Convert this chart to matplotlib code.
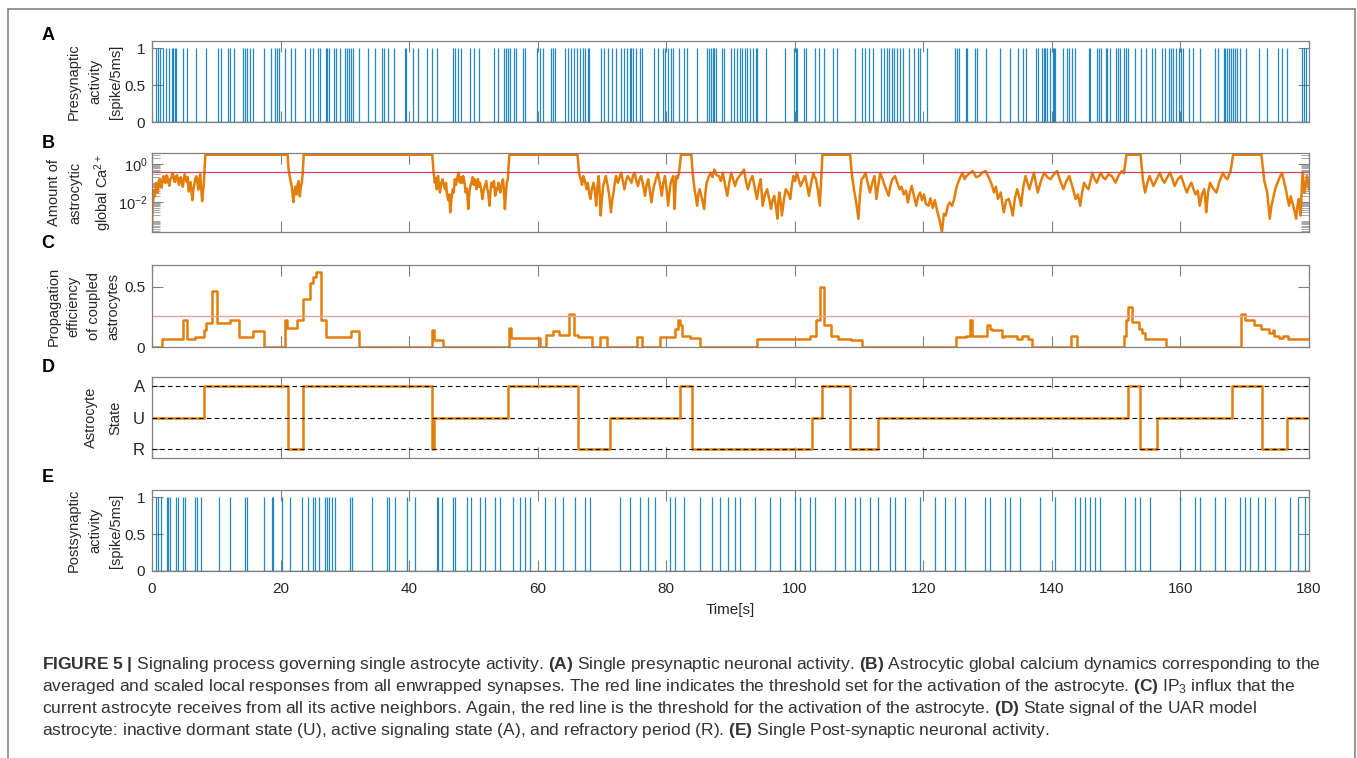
import numpy as np
import matplotlib.pyplot as plt
from matplotlib.patches import Rectangle
from matplotlib.ticker import FixedLocator, LogLocator, NullFormatter, LogFormatterSciNotation

plt.rcParams['font.family'] = ['Liberation Sans', 'DejaVu Sans']
plt.rcParams['mathtext.fontset'] = 'custom'
plt.rcParams['mathtext.rm'] = 'Liberation Sans'
plt.rcParams['mathtext.it'] = 'Liberation Sans:italic'
plt.rcParams['mathtext.bf'] = 'Liberation Sans:bold'

# ---- data (time in s) ----
pre_spikes = [0.7, 0.95, 1.3, 1.7, 2.2, 2.6, 3.1, 3.3, 3.6, 3.8, 4.9, 5.4, 6.9, 8.4, 10.3, 10.7, 11.8, 12.1,
              12.8, 14.1, 14.5, 14.8, 15.2, 15.7, 17.4, 18.5, 19.2, 19.5, 19.7, 20.7, 21.6, 22.2, 23.8, 24.6,
              25.0, 25.8, 26.1, 27.1, 27.2, 27.5, 28.3, 28.7, 29.3, 30.0, 30.4, 30.6, 31.0, 31.3, 32.2, 33.6,
              34.7, 35.8, 36.1, 36.7, 37.6, 39.3, 39.5, 40.6, 41.4, 42.8, 43.6, 44.3, 46.8, 47.1, 47.6, 48.0,
              49.4, 50.1, 50.8, 53.2, 53.9, 54.8, 55.1, 55.4, 55.7, 56.3, 56.7, 57.7, 58.1, 59.9, 60.3, 60.8,
              62.0, 62.4, 62.7, 64.2, 64.7, 65.2, 65.6, 66.1, 66.6, 67.0, 67.3, 67.8, 68.0, 69.8, 70.3, 71.0,
              71.6, 72.2, 72.9, 73.5, 73.9, 74.3, 74.5, 74.9, 75.3, 75.9, 76.2, 78.1, 78.7, 79.5, 79.8, 80.2,
              80.8, 81.1, 82.0, 82.7, 83.2, 84.8, 86.3, 86.6, 86.9, 87.2, 87.5, 87.8, 88.7, 89.0, 90.1, 90.6,
              91.0, 91.5, 91.8, 92.2, 92.6, 93.0, 93.5, 93.9, 94.2, 95.5, 98.5, 99.9, 100.2, 100.4, 101.4,
              101.8, 103.2, 103.8, 104.5, 106.0, 106.5, 109.4, 110.5, 110.9, 111.5, 112.2, 113.4, 113.9, 114.3,
              114.7, 115.1, 115.5, 115.9, 116.4, 116.8, 117.7, 118.5, 119.2, 119.5, 120.5, 125.0, 125.3, 125.6,
              126.6, 126.8, 128.0, 128.3, 129.8, 132.0, 133.5, 134.7, 135.5, 135.9, 137.5, 137.9, 138.4, 138.7,
              139.0, 139.3, 139.7, 140.1, 140.3, 140.5, 141.7, 142.3, 142.7, 143.2, 143.6, 145.7, 146.0, 147.0,
              147.3, 147.6, 148.4, 148.6, 149.0, 149.9, 150.3, 150.6, 151.2, 151.5, 151.8, 153.0, 153.9, 154.6,
              155.5, 156.1, 157.1, 157.6, 158.2, 158.5, 158.9, 159.3, 159.7, 160.1, 160.4, 161.3, 161.9, 163.1,
              165.3, 165.8, 166.7, 167.0, 167.3, 167.6, 167.9, 168.2, 168.5, 168.8, 169.3, 170.2, 172.2, 173.4,
              175.2, 175.8, 176.5, 178.9, 179.2, 179.6]

post_spikes = [0.7, 1.0, 1.35, 2.3, 2.5, 2.8, 3.8, 4.1, 4.9, 5.1, 6.7, 7.0, 7.6, 10.5, 12.1, 14.4, 14.8, 17.5,
               18.6, 18.8, 20.2, 21.5, 23.3, 24.2, 25.1, 25.4, 26.0, 26.9, 27.2, 27.6, 28.0, 28.4, 30.8, 31.1,
               34.3, 36.5, 36.8, 37.8, 39.7, 40.9, 44.3, 44.5, 45.1, 46.9, 47.2, 49.0, 49.6, 51.0, 51.8, 53.4,
               54.1, 56.2, 57.2, 58.0, 58.8, 61.1, 62.7, 63.9, 65.8, 67.4, 68.1, 72.8, 74.4, 75.9, 77.2, 78.3,
               80.6, 81.4, 82.8, 85.3, 87.1, 88.4, 89.6, 90.7, 91.5, 93.8, 96.1, 97.7, 100.0, 100.8, 102.4,
               103.1, 106.3, 107.8, 109.4, 110.1, 111.7, 112.9, 114.8, 115.6, 117.1, 119.5, 121.8, 123.4, 124.9,
               126.5, 129.6, 130.4, 132.7, 133.5, 135.0, 138.1, 140.5, 143.6, 144.4, 145.1, 145.9, 146.7, 147.5,
               151.4, 152.9, 153.7, 155.3, 159.9, 162.3, 163.0, 165.4, 166.9, 169.3, 170.0, 170.8, 172.1, 173.1,
               174.7, 177.0, 178.3, 179.4]

# global Ca2+ (time, log10 value)
ca_points = [
    (0.0, -3.45), (0.1, -2.2), (0.2, -1.9), (0.3, -1.4), (0.45, -1.7), (0.6, -1.0), (0.75, -1.3), (0.9, -1.5),
    (1.05, -0.9), (1.2, -0.8), (1.35, -1.2), (1.5, -1.25), (1.65, -0.8), (1.8, -0.65), (1.95, -0.95), (2.1, -1.0),
    (2.25, -0.6), (2.4, -0.7), (2.55, -1.0), (2.7, -1.15), (2.85, -0.8), (3.0, -0.75), (3.15, -0.5), (3.3, -0.55),
    (3.45, -0.9), (3.6, -0.95), (3.75, -0.65), (3.9, -0.6), (4.05, -0.85), (4.2, -1.1), (4.35, -0.75), (4.5, -0.7),
    (4.65, -1.0), (4.8, -1.2), (4.95, -0.8), (5.1, -0.55), (5.25, -0.75), (5.4, -0.95), (5.55, -0.7), (5.7, -1.45),
    (5.85, -1.2), (6.0, -0.95), (6.15, -1.5), (6.3, -1.9), (6.45, -1.3), (6.6, -1.05), (6.75, -0.75), (6.9, -0.65),
    (7.05, -0.95), (7.2, -1.35), (7.35, -0.8), (7.5, -0.55), (7.65, -1.3), (7.8, -1.95), (7.95, -1.4), (8.05, -1.1),
    (8.3, 0.47), (21.1, 0.47),
    (21.25, -0.3), (21.4, -0.6), (21.55, -0.9), (21.7, -1.1), (21.85, -1.5), (22.0, -2.0), (22.15, -1.5),
    (22.3, -1.2), (22.4, -1.45), (22.5, -1.6), (22.65, -1.1), (22.8, -0.9), (22.9, -1.3), (23.0, -1.7),
    (23.15, -1.2), (23.3, -1.0), (23.45, -0.5),
    (23.6, 0.47), (43.6, 0.47),
    (43.8, -0.4), (44.0, -0.99), (44.15, -0.75), (44.3, -1.33), (44.4, -0.9), (44.5, -0.64), (44.65, -1.1),
    (44.8, -1.50), (45.0, -1.0), (45.2, -0.81), (45.4, -1.1), (45.6, -1.33), (45.75, -1.0), (45.9, -1.59),
    (46.1, -1.9), (46.25, -1.6), (46.4, -2.53), (46.6, -1.8), (46.8, -1.33), (46.95, -1.5), (47.1, -0.81),
    (47.3, -1.1), (47.5, -0.7), (47.7, -0.47), (47.8, -0.8), (47.9, -0.99), (48.1, -0.7), (48.25, -1.0),
    (48.4, -0.64), (48.6, -0.9), (48.8, -1.50), (49.0, -1.3), (49.2, -2.36), (49.35, -1.6), (49.5, -1.2),
    (49.7, -0.99), (49.9, -0.7), (50.05, -1.1), (50.2, -0.81), (50.35, -1.0), (50.5, -1.33), (50.7, -0.8),
    (50.85, -1.2), (51.0, -0.99), (51.2, -1.3), (51.4, -1.84), (51.6, -1.4), (51.8, -1.16), (52.0, -0.9),
    (52.15, -1.3), (52.3, -1.5), (52.5, -2.19), (52.65, -1.5), (52.8, -0.99), (53.0, -1.2), (53.2, -0.9),
    (53.4, -1.67), (53.55, -1.3), (53.7, -1.4), (53.9, -0.99), (54.05, -1.2), (54.2, -1.50), (54.4, -1.1),
    (54.6, -0.81), (54.75, -1.4), (54.9, -2.36), (55.05, -1.6), (55.2, -0.99), (55.35, -0.8),
    (55.6, 0.47), (66.2, 0.47),
    (66.45, -0.5), (66.7, -0.81), (66.9, -1.1), (67.1, -0.64), (67.35, -0.9), (67.6, -1.33), (67.8, -1.0),
    (68.0, -1.5), (68.2, -1.84), (68.45, -1.3), (68.7, -0.99), (68.9, -1.4), (69.1, -2.19), (69.3, -1.2),
    (69.5, -0.64), (69.65, -1.5), (69.8, -2.70), (70.0, -1.8), (70.2, -1.16), (70.4, -0.9), (70.6, -0.64),
    (70.75, -0.9), (70.9, -1.16), (71.15, -1.7), (71.4, -2.53), (71.6, -1.9), (71.8, -1.50), (72.0, -1.0),
    (72.2, -0.64), (72.35, -0.9), (72.5, -0.99), (72.75, -0.7), (73.0, -0.47), (73.25, -0.9), (73.5, -1.33),
    (73.75, -0.9), (74.0, -0.64), (74.3, -0.8), (74.6, -0.99), (74.85, -0.6), (75.1, -0.47), (75.35, -0.9),
    (75.6, -1.16), (75.85, -0.8), (76.1, -0.64), (76.4, -1.1), (76.7, -1.67), (76.95, -1.1), (77.2, -0.81),
    (77.45, -1.4), (77.7, -2.02), (77.9, -1.5), (78.1, -1.16), (78.4, -0.8), (78.7, -0.47), (79.0, -1.0),
    (79.3, -1.67), (79.55, -1.0), (79.8, -0.64), (80.05, -1.3), (80.3, -2.19), (80.5, -1.5), (80.7, -0.99),
    (80.9, -0.8), (81.1, -0.64), (81.2, -1.5), (81.3, -2.36), (81.45, -1.2), (81.6, -0.64), (81.8, -0.75),
    (82.0, -0.47),
    (82.3, 0.47), (83.9, 0.47),
    (84.15, -0.6), (84.4, -1.33), (84.6, -1.7), (84.8, -2.19), (85.0, -1.6), (85.2, -1.33), (85.55, -1.8),
    (85.9, -2.36), (86.1, -1.5), (86.3, -0.99), (86.6, -0.7), (86.9, -0.47), (87.2, -0.7), (87.5, -0.30),
    (87.85, -0.6), (88.2, -0.64), (88.5, -0.9), (88.8, -0.47), (89.15, -1.1), (89.5, -1.67), (89.8, -1.0),
    (90.1, -0.47), (90.4, -0.8), (90.7, -1.16), (91.05, -0.8), (91.4, -0.64), (91.75, -0.5), (92.1, -0.30),
    (92.4, -0.9), (92.7, -1.33), (93.05, -0.9), (93.4, -0.64), (93.75, -1.2), (94.1, -1.84), (94.4, -1.2),
    (94.7, -0.81), (94.85, -1.5), (95.0, -2.19), (95.35, -1.6), (95.7, -1.33), (96.0, -1.8), (96.3, -2.36),
    (96.55, -1.9), (96.8, -1.67), (97.05, -2.2), (97.3, -2.87), (97.45, -2.0), (97.6, -1.50), (97.8, -2.0),
    (98.0, -2.70), (98.3, -1.9), (98.6, -1.33), (98.95, -1.5), (99.3, -1.84), (99.55, -1.1), (99.8, -0.64),
    (100.05, -0.9), (100.3, -0.47), (100.6, -0.8), (100.9, -1.16), (101.25, -0.9), (101.6, -0.64), (101.9, -1.1),
    (102.2, -1.67), (102.55, -1.0), (102.9, -0.47), (103.1, -0.7), (103.3, -0.81), (103.6, -1.4), (103.9, -2.19),
    (104.1, -0.8),
    (104.3, 0.47), (108.6, 0.47),
    (108.9, -0.6), (109.2, -1.33), (109.55, -2.0), (109.9, -2.87), (110.15, -1.6), (110.4, -0.81), (110.7, -0.7),
    (111.0, -0.47), (111.35, -1.0), (111.7, -1.50), (112.05, -1.0), (112.4, -0.64), (112.55, -1.2), (112.7, -1.84),
    (113.0, -1.1), (113.3, -0.47), (113.65, -0.8), (114.0, -1.16), (114.3, -1.4), (114.6, -1.67), (114.9, -1.1),
    (115.2, -0.8), (115.6, -0.64), (115.95, -1.0), (116.3, -1.33), (116.6, -1.2), (116.95, -1.6), (117.3, -1.4),
    (117.6, -2.02), (117.9, -1.5), (118.2, -1.16), (118.55, -1.7), (118.9, -2.19), (119.2, -1.7), (119.5, -1.50),
    (119.8, -1.9), (120.1, -1.6), (120.4, -2.1), (120.8, -2.19), (121.1, -1.8), (121.45, -2.3), (121.8, -1.9),
    (122.2, -2.53), (122.5, -2.9), (122.9, -3.56), (123.2, -2.6), (123.5, -2.70), (123.8, -2.2), (124.1, -2.02),
    (124.45, -2.2), (124.8, -1.84), (125.1, -1.3), (125.4, -0.99), (125.75, -0.7), (126.1, -0.47), (126.4, -0.8),
    (126.7, -0.64), (127.2, -0.5), (127.7, -0.38), (128.2, -0.7), (128.7, -0.64), (129.2, -0.45), (129.7, -0.38),
    (130.0, -0.6), (130.3, -0.81), (130.65, -1.1), (131.0, -1.50), (131.3, -1.2), (131.6, -1.84), (132.05, -1.5),
    (132.5, -2.53), (132.9, -1.9), (133.3, -1.84), (133.6, -2.2), (133.9, -2.70), (134.25, -1.8), (134.6, -1.33),
    (134.9, -1.7), (135.2, -2.19), (135.55, -1.2), (135.9, -0.64), (136.2, -1.0), (136.5, -1.33), (136.85, -0.9),
    (137.2, -0.47), (137.5, -1.0), (137.8, -1.50), (138.3, -0.9), (138.8, -0.47), (139.3, -0.7), (139.8, -0.81),
    (140.3, -0.55), (140.8, -0.38), (141.3, -0.9), (141.8, -1.33), (142.25, -0.9), (142.7, -0.64), (143.2, -1.2),
    (143.7, -1.84), (144.05, -1.6), (144.4, -2.19), (144.7, -1.5), (145.0, -0.99), (145.35, -1.2), (145.7, -1.33),
    (146.0, -0.9), (146.3, -0.47), (146.65, -0.8), (147.0, -0.99), (147.3, -0.7), (147.6, -0.47), (147.95, -0.7),
    (148.3, -0.81), (148.8, -0.55), (149.3, -0.64), (149.6, -0.8), (149.9, -0.99), (150.4, -0.6), (150.9, -0.38),
    (151.2, -0.5),
    (151.6, 0.47), (153.8, 0.47),
    (154.15, -0.8), (154.5, -1.50), (154.85, -1.0), (155.2, -0.64), (155.5, -0.9), (155.8, -1.16), (156.3, -0.8),
    (156.8, -0.47), (157.15, -0.8), (157.5, -0.99), (157.95, -0.7), (158.4, -0.47), (158.75, -0.8), (159.1, -1.16),
    (159.6, -0.8), (160.1, -0.64), (160.55, -1.1), (161.0, -1.50), (161.35, -1.2), (161.7, -0.99), (162.0, -1.3),
    (162.35, -1.6), (162.7, -1.4), (163.0, -2.19), (163.35, -1.6), (163.7, -1.33), (163.85, -1.8), (164.0, -2.53),
    (164.3, -1.5), (164.6, -0.99), (165.1, -1.3), (165.6, -1.50), (166.1, -0.9), (166.6, -0.47), (166.95, -0.7),
    (167.3, -0.81), (167.55, -0.6), (167.8, -0.38),
    (168.2, 0.47), (172.6, 0.47),
    (173.05, -0.9), (173.5, -1.50), (173.7, -2.2), (173.9, -2.87), (174.15, -2.2), (174.4, -1.84), (174.75, -1.3),
    (175.1, -0.99), (175.45, -0.7), (175.8, -0.47), (176.1, -0.9), (176.4, -1.33), (176.65, -1.8), (176.9, -2.19),
    (177.15, -1.7), (177.4, -2.02), (177.7, -2.4), (178.0, -2.87), (178.2, -2.2), (178.4, -1.84), (178.55, -2.3),
    (178.7, -2.70), (178.85, -1.5), (179.0, -0.47), (179.15, -1.0), (179.3, -1.50), (179.5, -1.0), (179.7, -0.64),
    (179.85, -1.0), (180.0, -1.33),
]
ca_threshold = 0.36

# propagation efficiency, steps (start time, value)
prop_steps = [
    (0.0, 0.0), (1.61, 0.065), (4.77, 0.22), (5.39, 0.065), (6.69, 0.087), (8.09, 0.14), (8.4, 0.2), (9.33, 0.466),
    (10.06, 0.2), (12.13, 0.22), (13.58, 0.085), (15.66, 0.135), (17.47, 0.0), (20.69, 0.22), (21.05, 0.155),
    (22.6, 0.22), (23.54, 0.4), (24.58, 0.53), (25.1, 0.58), (25.5, 0.62), (26.24, 0.22), (27.07, 0.085),
    (30.9, 0.135), (32.2, 0.0), (43.5, 0.14), (43.8, 0.062), (45.3, 0.0), (55.6, 0.16), (55.9, 0.075), (60.3, 0.0),
    (61.3, 0.1), (62.4, 0.13), (63.3, 0.1), (64.8, 0.27), (65.7, 0.1), (66.3, 0.085), (68.4, 0.0), (69.7, 0.08),
    (70.8, 0.0), (75.4, 0.08), (76.3, 0.0), (79.0, 0.085), (80.8, 0.08), (81.4, 0.15), (81.8, 0.22), (82.2, 0.18),
    (82.5, 0.09), (83.7, 0.075), (85.2, 0.0), (94.2, 0.07), (102.4, 0.09), (103.3, 0.22), (104.0, 0.5),
    (104.5, 0.18), (105.7, 0.09), (106.8, 0.07), (108.8, 0.057), (110.4, 0.0), (125.1, 0.08), (126.6, 0.09),
    (127.2, 0.22), (127.6, 0.09), (129.9, 0.18), (130.4, 0.15), (130.7, 0.14), (132.3, 0.08), (132.6, 0.09),
    (134.6, 0.07), (135.4, 0.09), (136.3, 0.07), (136.9, 0.0), (142.9, 0.09), (143.9, 0.0), (151.2, 0.09),
    (151.5, 0.22), (151.9, 0.33), (152.5, 0.21), (153.5, 0.15), (154.0, 0.12), (154.5, 0.07), (157.8, 0.0),
    (169.4, 0.27), (170.0, 0.22), (171.5, 0.18), (172.6, 0.15), (173.8, 0.12), (174.4, 0.14), (174.6, 0.09),
    (175.4, 0.075), (175.9, 0.09), (176.7, 0.07), (180.0, 0.07),
]
prop_threshold = 0.26

# astrocyte state: 1 = A, 0 = U, -1 = R
state_steps = [
    (0.0, 0), (8.1, 1), (21.2, -1), (23.5, 1), (43.6, -1), (43.8, 0), (55.4, 1), (66.3, -1), (71.3, 0),
    (82.1, 1), (84.0, -1), (102.7, 0), (104.2, 1), (108.6, -1), (112.9, 0), (151.8, 1), (153.7, -1),
    (156.3, 0), (168.0, 1), (172.7, -1), (176.6, 0), (180.0, 0),
]
state_labels = ['R', 'U', 'A']

panel_letters = ['A', 'B', 'C', 'D', 'E']
ylabels = ['Presynaptic\nactivity\n[spike/5ms]',
           'Amount of\nastrocytic\nglobal Ca$^{2+}$',
           'Propagation\nefficiency\nof coupled\nastrocytes',
           'Astrocyte\nState',
           'Postsynaptic\nactivity\n[spike/5ms]']

caption = [
    r"$\mathbf{FIGURE\ 5\ |}$ Signaling process governing single astrocyte activity. $\mathbf{(A)}$ Single presynaptic neuronal activity. $\mathbf{(B)}$ Astrocytic global calcium dynamics corresponding to the",
    r"averaged and scaled local responses from all enwrapped synapses. The red line indicates the threshold set for the activation of the astrocyte. $\mathbf{(C)}$ IP$_3$ influx that the",
    r"current astrocyte receives from all its active neighbors. Again, the red line is the threshold for the activation of the astrocyte. $\mathbf{(D)}$ State signal of the UAR model",
    r"astrocyte: inactive dormant state (U), active signaling state (A), and refractory period (R). $\mathbf{(E)}$ Single Post-synaptic neuronal activity.",
]

BLUE = '#0072BD'
ORANGE = '#E47E0B'
GRAY = '#808080'
TXT = '#262626'

W, H = 1357, 758
fig = plt.figure(figsize=(W / 100, H / 100), dpi=100)

# outer frame
fig.patches.append(Rectangle((8 / W, -0.01), (1355 - 8) / W, 1.01 - 9 / H, transform=fig.transFigure,
                             fill=False, edgecolor='#8c8c8c', lw=1.3))

boxes = [(41, 122), (153, 232), (265, 347), (377, 458), (490, 571)]
axes = []
for top, bot in boxes:
    ax = fig.add_axes([152 / W, 1 - bot / H, (1309 - 152) / W, (bot - top) / H])
    ax.set_xlim(0, 180)
    ax.set_xticks(range(0, 181, 20))
    ax.tick_params(direction='in', length=8, width=0.8, color=GRAY, top=True, right=True,
                   labelsize=11, pad=5, labelcolor=TXT)
    ax.tick_params(axis='x', pad=8)
    for s in ax.spines.values():
        s.set_color(GRAY)
        s.set_linewidth(0.9)
    axes.append(ax)
axA, axB, axC, axD, axE = axes

# A and E: spike trains
for ax, sp in ((axA, pre_spikes), (axE, post_spikes)):
    ax.vlines(sp, 0, 1, color=BLUE, lw=0.9, alpha=0.85)
    ax.axhline(0, color=BLUE, lw=1.0)
    ax.set_ylim(0, 1.1)
    ax.set_yticks([0, 0.5, 1])
    ax.set_yticklabels(['0', '0.5', '1'])

# B: global calcium, log scale
ca_t, ca_log = zip(*ca_points)
axB.plot(ca_t, 10 ** np.array(ca_log), color=ORANGE, lw=1.8)
axB.axhline(ca_threshold, color='#C8495A', lw=0.9)
axB.set_yscale('log')
axB.set_ylim(10 ** -3.56, 10 ** 0.56)
axB.yaxis.set_major_locator(FixedLocator([1e-2, 1]))
axB.yaxis.set_major_formatter(LogFormatterSciNotation())
axB.yaxis.set_minor_locator(LogLocator(base=10, subs=np.arange(1, 10), numticks=50))
axB.yaxis.set_minor_formatter(NullFormatter())
axB.tick_params(axis='y', which='major', labelsize=10.5, pad=3)
axB.tick_params(axis='y', which='minor', direction='in', length=6, width=0.6, color='#9a9a9a',
                left=True, right=True)

# C: propagation efficiency
p_t, p_v = zip(*prop_steps)
axC.step(p_t, p_v, where='post', color=ORANGE, lw=1.8)
axC.axhline(prop_threshold, color='#E3A2AA', lw=1.0)
axC.set_ylim(0, 0.68)
axC.set_yticks([0, 0.5])
axC.set_yticklabels(['0', '0.5'])

# D: state
s_t, s_v = zip(*state_steps)
axD.step(s_t, s_v, where='post', color=ORANGE, lw=1.8, zorder=2)
for lev in (-1, 0, 1):
    axD.axhline(lev, color='black', lw=0.8, ls=(0, (4, 3)), zorder=3)
axD.set_ylim(-1.3, 1.3)
axD.set_yticks([-1, 0, 1])
axD.set_yticklabels(state_labels, fontsize=12)

for ax in axes[:-1]:
    ax.set_xticklabels([])
axE.set_xlabel('Time[s]', fontsize=11, labelpad=5, color=TXT)

spacing = [1.65, 1.65, 1.55, 1.9, 1.65]
label_x = [-0.025, -0.033, -0.027, -0.026, -0.025]
for ax, lab, ls, lx in zip(axes, ylabels, spacing, label_x):
    ax.set_ylabel(lab, fontsize=10.5, linespacing=ls, color=TXT)
    ax.yaxis.set_label_coords(lx, 0.5)

letter_y = [36, 144, 243, 367, 478]
for let, yy in zip(panel_letters, letter_y):
    fig.text(48 / W, 1 - yy / H, let, fontsize=13, fontweight='bold', ha='center', va='center')

cy = 664
for line in caption:
    fig.text(42 / W, 1 - cy / H, line, fontsize=12.5, color='#333333', va='center', ha='left')
    cy += 22.3

fig.savefig('out.png', dpi=100)
